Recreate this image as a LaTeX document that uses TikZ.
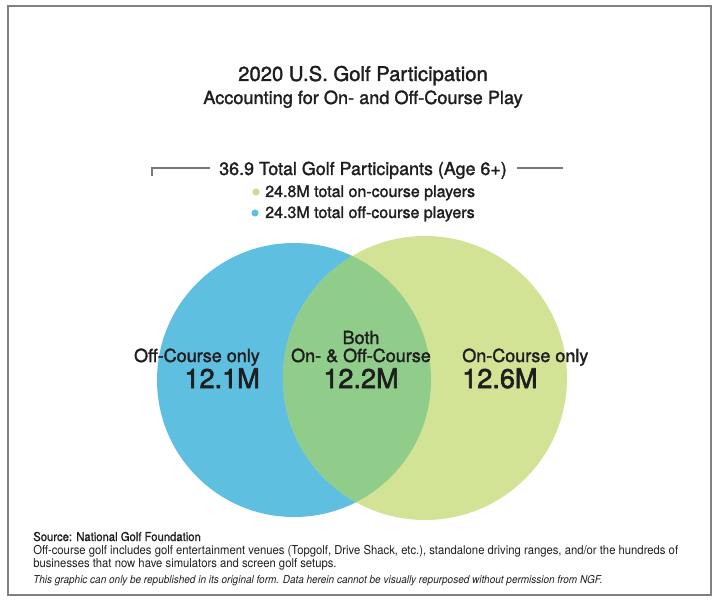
\documentclass[tikz,border=0pt]{standalone}
\usepackage{fontspec}
\setmainfont{TeX Gyre Heros}
\newfontfamily\medfont[FakeBold=1.6]{TeX Gyre Heros}
\newfontfamily\numfont[FakeBold=2.2]{TeX Gyre Heros}
\newfontfamily\narrowfont[FakeStretch=0.92]{TeX Gyre Heros}
\newfontfamily\narrowmed[FakeStretch=0.92,FakeBold=1.2]{TeX Gyre Heros}
\definecolor{offblue}{RGB}{94,191,225}
\definecolor{ongreen}{RGB}{210,227,150}
\definecolor{bothgreen}{RGB}{145,205,138}
\definecolor{dotgreen}{RGB}{200,222,140}
\definecolor{txt}{RGB}{30,30,30}
\definecolor{framegray}{RGB}{128,128,128}
\definecolor{rulegray}{RGB}{120,120,120}
\begin{document}
\begin{tikzpicture}[x=0.75pt,y=-0.75pt,
  base/.style={inner sep=0pt,text=txt},
  titlefont/.style={base,anchor=base,font=\medfont\fontsize{15.2}{18}\selectfont},
  subfont/.style={base,anchor=base,font=\medfont\fontsize{13.6}{16}\selectfont},
  headfont/.style={base,anchor=base,font=\medfont\fontsize{13.4}{16}\selectfont},
  legfont/.style={base,anchor=base west,font=\medfont\fontsize{12}{14}\selectfont},
  lbl/.style={base,font=\medfont\fontsize{13.5}{16}\selectfont},
  big/.style={base,font=\numfont\fontsize{20.3}{23}\selectfont},
  note/.style={base,anchor=base west,font=\narrowfont\fontsize{9.2}{11}\selectfont},
  legdot/.style={circle,inner sep=0pt,minimum size=5.3pt},
  bracket/.style={rulegray,line width=0.8pt}]
\useasboundingbox (0,0) rectangle (720,602);
\fill[white] (0,0) rectangle (720,602);
\draw[framegray,line width=1.5pt] (8,6) rectangle (711,595);

% Venn circles
\fill[offblue] (294,380) circle[radius=137];
\fill[ongreen] (425,378) circle[radius=142];
\begin{scope}
  \clip (294,380) circle[radius=137];
  \fill[bothgreen] (425,378) circle[radius=142];
\end{scope}

% Titles
\node[titlefont] (title) at (363,81) {2020 U.S. Golf Participation};
\node[subfont] (subtitle) at (363,104) {Accounting for On- and Off-Course Play};

% Total header with bracket
\node[headfont] (total) at (363,175) {36.9 Total Golf Participants (Age 6+)};
\coordinate (brl) at (152,176);
\coordinate (brlc) at (152,168);
\coordinate (brla) at (210,168);
\coordinate (brra) at (517,168);
\coordinate (brr) at (563,168);
\draw[bracket] (brl) -- (brlc) -- (brla);
\draw[bracket] (brra) -- (brr);

% Legend
\node[legdot,fill=dotgreen] (dg) at (256,192) {};
\node[legfont] (lg) at (265,197) {24.8M total on-course players};
\node[legdot,fill=offblue] (db) at (255,213) {};
\node[legfont] (lb) at (265,218) {24.3M total off-course players};

% Region labels
\node[lbl,anchor=base east] (offl) at (260,362) {Off-Course only};
\node[big,anchor=base east] (offn) at (260,388) {12.1M};
\node[lbl,anchor=base] (both1) at (361,344) {Both};
\node[lbl,anchor=base] (both2) at (361,362) {On- \& Off-Course};
\node[big,anchor=base] (bothn) at (361,388) {12.2M};
\node[lbl,anchor=base west] (onl) at (462,362) {On-Course only};
\node[big,anchor=base west] (onn) at (462,388) {12.6M};

% Notes
\node[note,font=\narrowmed\fontsize{9.2}{11}\selectfont] (src) at (33,541) {Source: National Golf Foundation};
\node[note] (n1) at (33,554) {Off-course golf includes golf entertainment venues (Topgolf, Drive Shack, etc.), standalone driving ranges, and/or the hundreds of};
\node[note] (n2) at (33,567) {businesses that now have simulators and screen golf setups.};
\node[note,font=\narrowfont\itshape\fontsize{8.15}{10}\selectfont] (n3) at (33,583) {This graphic can only be republished in its original form. Data herein cannot be visually repurposed without permission from NGF.};
\end{tikzpicture}
\end{document}
